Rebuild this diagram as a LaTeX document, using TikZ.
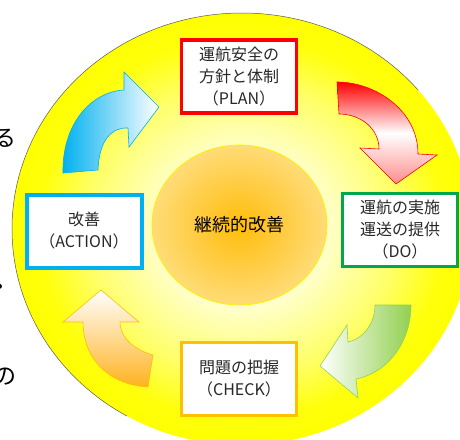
\documentclass[tikz,border=0pt]{standalone}
\usepackage{fontspec}
\usetikzlibrary{shapes.geometric}
\newfontfamily\jpfont{Noto Sans CJK JP}
\definecolor{pdcared}{RGB}{255,0,0}
\definecolor{pdcagreen}{RGB}{0,166,80}
\definecolor{pdcablue}{RGB}{0,176,240}
\definecolor{pdcaorange}{RGB}{255,192,0}
\definecolor{arrgreen}{RGB}{146,208,80}
\definecolor{arrorange}{RGB}{255,178,30}
\definecolor{boxtext}{RGB}{40,40,40}
\definecolor{coreinner}{RGB}{255,188,10}
\definecolor{coreouter}{RGB}{255,220,120}
\pgfdeclareradialshading{yellowdisc}{\pgfpoint{0bp}{0bp}}{color(0bp)=(yellow!3); color(9bp)=(yellow!20); color(17bp)=(yellow!60); color(22bp)=(yellow!95); color(25bp)=(yellow); color(50bp)=(yellow)}
\pgfdeclareradialshading{orangecore}{\pgfpoint{0bp}{0bp}}{color(0bp)=(coreinner); color(25bp)=(coreouter); color(50bp)=(coreouter)}
\tikzset{
  pdcabox/.style = {draw, fill=white, line width=3.5pt, minimum width=115pt, minimum height=73pt, align=center, inner sep=0pt, font=\jpfont\fontsize{16}{22}\selectfont, text=boxtext},
  box_p/.style = {pdcabox, draw=pdcared},
  box_d/.style = {pdcabox, draw=pdcagreen, line width=3pt},
  box_c/.style = {pdcabox, draw=pdcaorange},
  box_a/.style = {pdcabox, draw=pdcablue, line width=4pt},
  core/.style = {ellipse, draw=yellow, line width=0.8pt, shading=orangecore, minimum width=175pt, minimum height=160pt, inner sep=0pt, font=\jpfont\fontsize{18}{18}\selectfont, text=black},
  stray/.style = {inner sep=0pt, font=\jpfont\fontsize{23}{23}\selectfont, text=black},
  arrow_line/.style = {line width=0.6pt, line join=miter}
}
\begin{document}
\begin{tikzpicture}[x=1pt,y=-1pt]
\useasboundingbox (0,0) rectangle (460,439);
% back disc
\shade[shading=yellowdisc] (242,229) ellipse [x radius=230pt, y radius=216pt];
\draw[black!65, line width=0.5pt] ([shift={(242,229)}]40:230pt and 216pt) arc[start angle=40, end angle=240, x radius=230pt, y radius=216pt];

% text cut off at the left edge
\node[stray] (frag_ru) at (5,138) {る};
\node[stray] (frag_dot) at (0,290) {・};
\node[stray] (frag_no) at (5,377) {の};

% centre
\node[core] (core) at (239.5,225) {継続的改善};

% the four steps
\node[box_p] (plan) at (239,76.5) {運航安全の\\方針と体制\\（PLAN）};
\node[box_d] (do) at (400,230) {運航の実施\\運送の提供\\（DO）};
\node[box_c] (check) at (239,379) {問題の把握\\（CHECK）};
\node[box_a] (act) at (84,231) {改善\\（ACTION）};

% curved arrows
\draw[arrow_line, draw=pdcablue, left color=pdcablue, right color=white]
  (63,173) .. controls (62,125) and (90,92) .. (124,90) -- (124,72) -- (159,107)
  -- (129,147) -- (128,128) .. controls (112,127) and (99,140) .. (98,170) -- cycle;
\draw[arrow_line, draw=pdcared, top color=pdcared, bottom color=pdcared!45, middle color=white]
  (337,82) .. controls (375,82) and (418,110) .. (418,154) -- (437,155) -- (396,184)
  -- (360,148) -- (379,149) .. controls (379,128) and (360,114) .. (339,114) -- cycle;
\draw[arrow_line, draw=arrgreen, left color=white, right color=arrgreen]
  (411,305) .. controls (411,340) and (390,372) .. (356,379) -- (358,398) -- (320,366)
  -- (347,325) -- (348,342) .. controls (365,338) and (375,322) .. (375,305) -- cycle;
\draw[arrow_line, draw=pdcaorange, top color=white, bottom color=arrorange]
  (101,290) -- (139,322) -- (120,322) .. controls (120,338) and (135,350) .. (153,355)
  -- (148,387) .. controls (110,385) and (83,360) .. (83,322) -- (63,322) -- cycle;
\end{tikzpicture}
\end{document}
